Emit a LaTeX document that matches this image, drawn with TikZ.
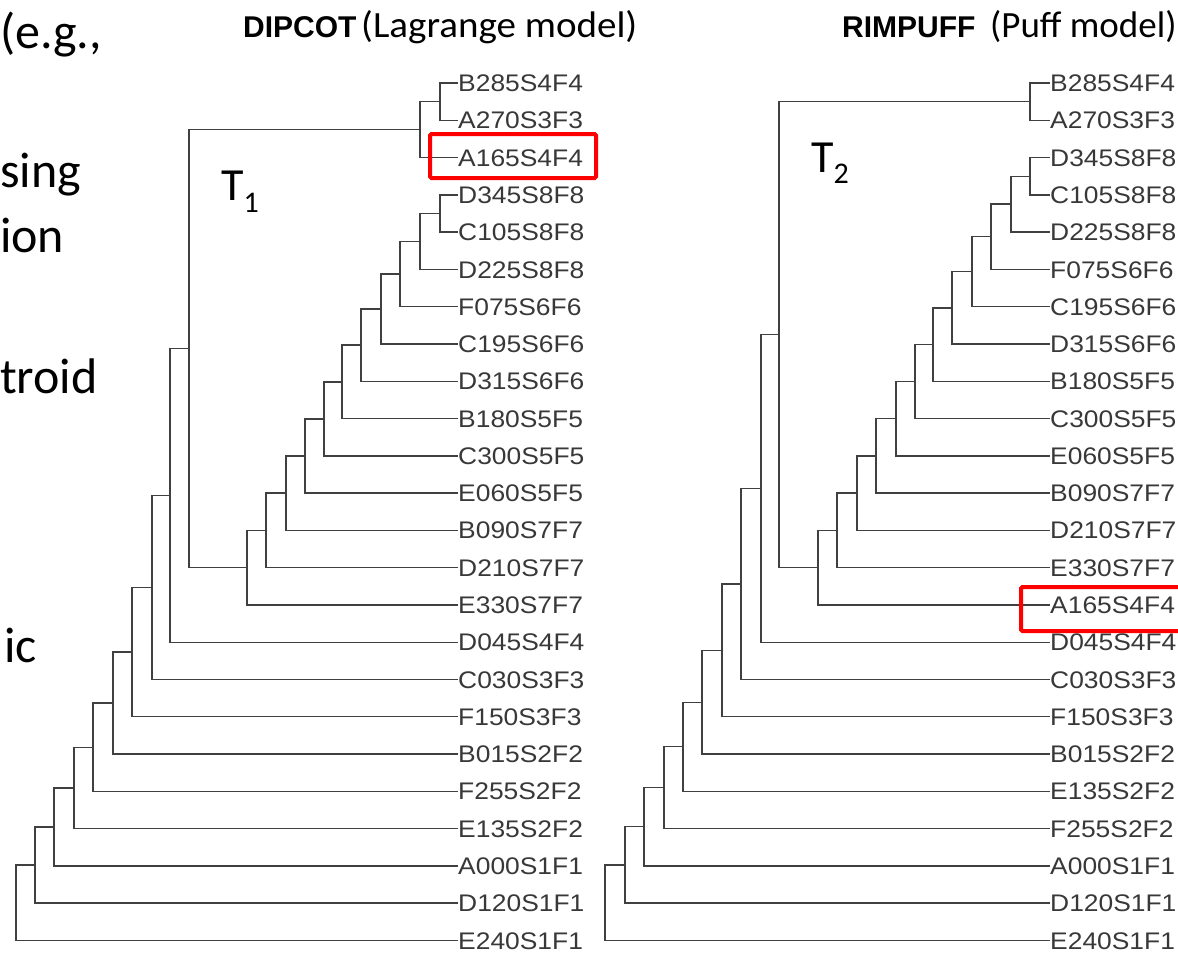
\documentclass[tikz,border=0pt]{standalone}
\usepackage{fontspec}
\usetikzlibrary{calc}
\newfontfamily\arialf{Liberation Sans}
\newfontfamily\calibrif{Carlito}
\definecolor{linegray}{HTML}{404040}
\definecolor{labgray}{HTML}{383838}
\definecolor{boxred}{HTML}{FF0000}
\newcommand\tjoin[4]{%
  \path let \p1=(#3), \p2=(#4) in coordinate (#1) at (#2pt,{0.5*(\y1+\y2)});
  \draw[branch] (#3) -| (#1) |- (#4);}
\begin{document}
\begin{tikzpicture}[x=1pt,y=-1pt,
  leaf/.style={anchor=west,inner sep=0pt,text height=17.2pt,text depth=0pt,
    font=\arialf\fontsize{24}{24}\selectfont,text=labgray,xscale=1.1},
  branch/.style={draw=linegray,line width=1.4pt},
  redbox/.style={draw=boxred,line width=4pt,rounded corners=1.5pt},
  sidetext/.style={anchor=base west,inner sep=0pt,font=\calibrif\fontsize{50}{50}\selectfont},
  boldtitle/.style={anchor=base west,inner sep=0pt,font=\arialf\bfseries\fontsize{30}{30}\selectfont},
  normtitle/.style={anchor=base west,inner sep=0pt,font=\calibrif\fontsize{37}{37}\selectfont},
  tlabel/.style={anchor=base west,inner sep=0pt,font=\calibrif\fontsize{46}{46}\selectfont}
]
\clip (0,0) rectangle (1178,953);
\useasboundingbox (0,0) rectangle (1178,953);

% side text fragments
\node[sidetext] (w1) at (0,48) {(e.g.,};
\node[sidetext] (w2) at (0,187) {sing};
\node[sidetext] (w3) at (0,252) {ion};
\node[sidetext] (w4) at (0,393) {troid};
\node[sidetext] (w5) at (4,662) {ic};

% titles
\node[boldtitle] (tdb) at (243,37) {DIPCOT};
\node[normtitle,xscale=1.055] (tdn) at (361,37) {(Lagrange model)};
\node[boldtitle] (trb) at (842,37) {RIMPUFF};
\node[normtitle] (trn) at (990,37) {(Puff model)};

% T labels
\node[tlabel] (T1) at (221,200) {T\raisebox{-12pt}{\fontsize{30}{30}\selectfont 1}};
\node[tlabel] (T2) at (811,172) {T\raisebox{-11pt}{\fontsize{30}{30}\selectfont 2}};

% left leaves
\foreach \i/\t in {0/B285S4F4,1/A270S3F3,2/A165S4F4,3/D345S8F8,4/C105S8F8,5/D225S8F8,
  6/F075S6F6,7/C195S6F6,8/D315S6F6,9/B180S5F5,10/C300S5F5,11/E060S5F5,12/B090S7F7,
  13/D210S7F7,14/E330S7F7,15/D045S4F4,16/C030S3F3,17/F150S3F3,18/B015S2F2,19/F255S2F2,
  20/E135S2F2,21/A000S1F1,22/D120S1F1,23/E240S1F1}
  \node[leaf] (a\i) at (458,{83+\i*37.28}) {\t};

% right leaves
\foreach \i/\t in {0/B285S4F4,1/A270S3F3,2/D345S8F8,3/C105S8F8,4/D225S8F8,5/F075S6F6,
  6/C195S6F6,7/D315S6F6,8/B180S5F5,9/C300S5F5,10/E060S5F5,11/B090S7F7,12/D210S7F7,
  13/E330S7F7,14/A165S4F4,15/D045S4F4,16/C030S3F3,17/F150S3F3,18/B015S2F2,19/E135S2F2,
  20/F255S2F2,21/A000S1F1,22/D120S1F1,23/E240S1F1}
  \node[leaf] (b\i) at (1050,{83+\i*37.28}) {\t};

% left tree
\tjoin{la1}{440}{a0.west}{a1.west}
\tjoin{la2}{420}{la1}{a2.west}
\tjoin{la3}{440}{a3.west}{a4.west}
\tjoin{la4}{420}{la3}{a5.west}
\tjoin{la5}{400}{la4}{a6.west}
\tjoin{la6}{381}{la5}{a7.west}
\tjoin{la7}{361}{la6}{a8.west}
\tjoin{la8}{342}{la7}{a9.west}
\tjoin{la9}{324}{la8}{a10.west}
\tjoin{la10}{305}{la9}{a11.west}
\tjoin{la11}{286}{la10}{a12.west}
\tjoin{la12}{266}{la11}{a13.west}
\tjoin{la13}{247}{la12}{a14.west}
\tjoin{la14}{189}{la2}{la13}
\tjoin{la15}{170}{la14}{a15.west}
\tjoin{la16}{152}{la15}{a16.west}
\tjoin{la17}{132}{la16}{a17.west}
\tjoin{la18}{113}{la17}{a18.west}
\tjoin{la19}{93}{la18}{a19.west}
\tjoin{la20}{74}{la19}{a20.west}
\tjoin{la21}{54}{la20}{a21.west}
\tjoin{la22}{35}{la21}{a22.west}
\tjoin{la23}{16}{la22}{a23.west}

% right tree
\tjoin{rb1}{1030}{b0.west}{b1.west}
\tjoin{rb2}{1030}{b2.west}{b3.west}
\tjoin{rb3}{1011}{rb2}{b4.west}
\tjoin{rb4}{991}{rb3}{b5.west}
\tjoin{rb5}{972}{rb4}{b6.west}
\tjoin{rb6}{952}{rb5}{b7.west}
\tjoin{rb7}{933}{rb6}{b8.west}
\tjoin{rb8}{915}{rb7}{b9.west}
\tjoin{rb9}{896}{rb8}{b10.west}
\tjoin{rb10}{876}{rb9}{b11.west}
\tjoin{rb11}{857}{rb10}{b12.west}
\tjoin{rb12}{837}{rb11}{b13.west}
\tjoin{rb13}{818}{rb12}{b14.west}
\tjoin{rb14}{779}{rb1}{rb13}
\tjoin{rb15}{761}{rb14}{b15.west}
\tjoin{rb16}{741}{rb15}{b16.west}
\tjoin{rb17}{722}{rb16}{b17.west}
\tjoin{rb18}{702}{rb17}{b18.west}
\tjoin{rb19}{683}{rb18}{b19.west}
\tjoin{rb20}{664}{rb19}{b20.west}
\tjoin{rb21}{644}{rb20}{b21.west}
\tjoin{rb22}{625}{rb21}{b22.west}
\tjoin{rb23}{605}{rb22}{b23.west}

% red highlight boxes
\draw[redbox] (430,134) rectangle (596,178);
\draw[redbox] (1021,587) rectangle (1195,631);
\end{tikzpicture}
\end{document}
